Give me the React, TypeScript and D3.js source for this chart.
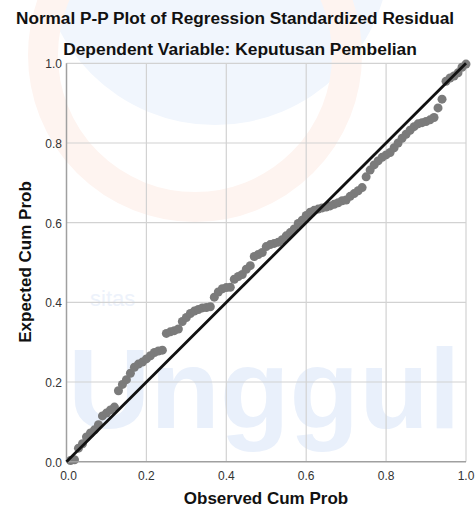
import { useEffect, useRef } from "react";
import * as d3 from "d3";

const titleMain = "Normal P-P Plot of Regression Standardized Residual";
const titleSub = "Dependent Variable: Keputusan Pembelian";
const xLabel = "Observed Cum Prob";
const yLabel = "Expected Cum Prob";

const tickValues = [0, 0.2, 0.4, 0.6, 0.8, 1.0];

// observed cum prob (x) and expected cum prob (y)
const observed = [
  0.01, 0.02, 0.03, 0.04, 0.05, 0.06, 0.07, 0.08, 0.09, 0.1,
  0.11, 0.12, 0.13, 0.14, 0.15, 0.16, 0.17, 0.18, 0.19, 0.2,
  0.21, 0.22, 0.23, 0.24, 0.25, 0.26, 0.27, 0.28, 0.29, 0.3,
  0.31, 0.32, 0.33, 0.34, 0.35, 0.36, 0.37, 0.38, 0.39, 0.4,
  0.41, 0.42, 0.43, 0.44, 0.45, 0.46, 0.47, 0.48, 0.49, 0.5,
  0.51, 0.52, 0.53, 0.54, 0.55, 0.56, 0.57, 0.58, 0.59, 0.6,
  0.61, 0.62, 0.63, 0.64, 0.65, 0.66, 0.67, 0.68, 0.69, 0.7,
  0.71, 0.72, 0.73, 0.74, 0.75, 0.76, 0.77, 0.78, 0.79, 0.8,
  0.81, 0.82, 0.83, 0.84, 0.85, 0.86, 0.87, 0.88, 0.89, 0.9,
  0.91, 0.92, 0.93, 0.94, 0.95, 0.96, 0.97, 0.98, 0.99, 1.0,
];
const expected = [
  0.003, 0.005, 0.034, 0.045, 0.062, 0.072, 0.08, 0.093, 0.115, 0.122,
  0.13, 0.137, 0.178, 0.194, 0.206, 0.222, 0.237, 0.245, 0.25, 0.258,
  0.266, 0.274, 0.278, 0.28, 0.322, 0.326, 0.329, 0.333, 0.352, 0.362,
  0.372, 0.378, 0.382, 0.386, 0.387, 0.389, 0.413, 0.426, 0.434, 0.437,
  0.438, 0.458, 0.465, 0.47, 0.483, 0.492, 0.515, 0.52, 0.525, 0.54,
  0.545, 0.548, 0.551, 0.557, 0.567, 0.575, 0.584, 0.598, 0.606, 0.618,
  0.626, 0.631, 0.634, 0.637, 0.639, 0.642, 0.646, 0.65, 0.655, 0.657,
  0.666, 0.673, 0.68, 0.688, 0.715, 0.732, 0.745, 0.755, 0.764, 0.77,
  0.776, 0.788, 0.8, 0.812, 0.822, 0.832, 0.841, 0.848, 0.851, 0.854,
  0.858, 0.864, 0.888, 0.91, 0.955, 0.963, 0.968, 0.976, 0.99, 0.998,
];

const W = 475;
const H = 518;

export default function App() {
  const ref = useRef<SVGSVGElement | null>(null);

  useEffect(() => {
    if (!ref.current) return;
    const svg = d3.select(ref.current);
    svg.selectAll("*").remove();

    const x = d3.scaleLinear().domain([0, 1]).range([66.5, 466]);
    const y = d3.scaleLinear().domain([0, 1]).range([461.7, 63.3]);
    const font = "'Liberation Sans', Arial, sans-serif";

    svg.append("rect").attr("width", W).attr("height", H).attr("fill", "#fff");

    // faint watermark behind the chart (logo of the source document)
    const wm = svg.append("g");
    wm.append("circle").attr("cx", 215).attr("cy", -50).attr("r", 175).attr("fill", "#f1f6fd");
    wm.append("circle").attr("cx", 195).attr("cy", 55).attr("r", 152)
      .attr("fill", "none").attr("stroke", "#fef4f0").attr("stroke-width", 30);
    wm.append("text")
      .attr("x", 68).attr("y", 428)
      .attr("font-family", font).attr("font-size", 114).attr("font-weight", "bold")
      .attr("fill", "#e9f0fb")
      .text("Unggul");
    wm.append("text")
      .attr("x", 90).attr("y", 306)
      .attr("font-family", font).attr("font-size", 22)
      .attr("fill", "#edf2fb")
      .text("sitas");

    // grid
    const grid = svg.append("g").attr("stroke", "#d2d2d2").attr("stroke-width", 1.2);
    grid.selectAll("line.v")
      .data(tickValues.slice(1))
      .join("line")
      .attr("x1", (d) => x(d)).attr("x2", (d) => x(d))
      .attr("y1", y(0)).attr("y2", y(1));
    grid.selectAll("line.h")
      .data(tickValues.slice(1))
      .join("line")
      .attr("class", "h")
      .attr("x1", x(0)).attr("x2", x(1))
      .attr("y1", (d) => y(d)).attr("y2", (d) => y(d));

    // points
    const pts = observed.map((o, i) => ({ o, e: expected[i] }));
    svg.append("g")
      .selectAll("circle")
      .data(pts)
      .join("circle")
      .attr("cx", (d) => x(d.o))
      .attr("cy", (d) => y(d.e))
      .attr("r", 4.5)
      .attr("fill", "#7b7b7b");

    // axes lines
    svg.append("line")
      .attr("x1", x(0)).attr("x2", x(0)).attr("y1", y(0)).attr("y2", y(1))
      .attr("stroke", "#a0a0a0").attr("stroke-width", 1.5);
    svg.append("line")
      .attr("x1", x(0)).attr("x2", x(1)).attr("y1", y(0)).attr("y2", y(0))
      .attr("stroke", "#a0a0a0").attr("stroke-width", 1.5);

    // reference diagonal
    svg.append("line")
      .attr("x1", x(0)).attr("y1", y(0)).attr("x2", x(1)).attr("y2", y(1))
      .attr("stroke", "#111").attr("stroke-width", 2.8);

    // tick labels
    const fmt = d3.format(".1f");
    svg.append("g")
      .selectAll("text")
      .data(tickValues)
      .join("text")
      .attr("x", 62)
      .attr("y", (d) => y(d) + 5)
      .attr("text-anchor", "end")
      .attr("font-family", font).attr("font-size", 12).attr("fill", "#333")
      .text((d) => fmt(d));
    svg.append("g")
      .selectAll("text")
      .data(tickValues)
      .join("text")
      .attr("x", (d) => (d === 0 ? x(d) + 2 : x(d)))
      .attr("y", 480)
      .attr("text-anchor", "middle")
      .attr("font-family", font).attr("font-size", 12).attr("fill", "#333")
      .text((d) => fmt(d));

    // titles
    const bold = (sel: d3.Selection<SVGTextElement, unknown, null, undefined>, size: number) =>
      sel.attr("text-anchor", "middle")
        .attr("font-family", font).attr("font-size", size)
        .attr("font-weight", "bold").attr("fill", "#111");

    bold(svg.append("text").attr("x", 235).attr("y", 24), 17.2).text(titleMain);
    bold(svg.append("text").attr("x", 240).attr("y", 55), 17.4).text(titleSub);
    bold(svg.append("text").attr("x", 266).attr("y", 504), 17).text(xLabel);
    bold(svg.append("text").attr("transform", "translate(31,262) rotate(-90)"), 17).text(yLabel);
  }, []);

  return (
    <svg
      ref={ref}
      width={W}
      height={H}
      style={{ position: "absolute", left: 0, top: 0, display: "block" }}
    />
  );
}
